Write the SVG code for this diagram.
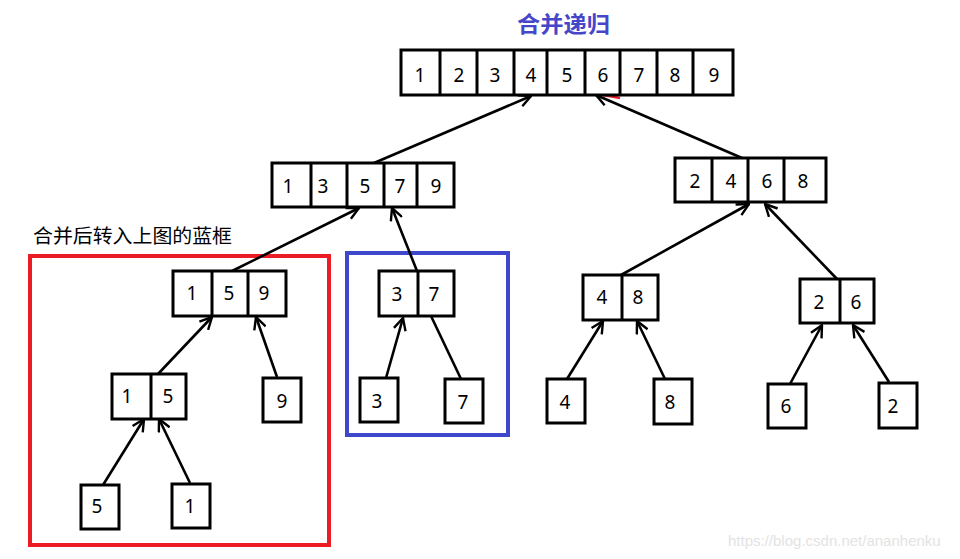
<svg xmlns="http://www.w3.org/2000/svg" width="960" height="559" viewBox="0 0 960 559">
<style>
.box{fill:#fff;stroke:#000;stroke-width:3}
.div{stroke:#000;stroke-width:3}
.n{font-family:"Noto Sans","Liberation Sans",sans-serif;font-size:19px;fill:#000;text-anchor:middle}
.e{stroke:#000;stroke-width:2.6;fill:none}
.a{marker-end:url(#arr)}
</style>
<defs>
<marker id="arr" viewBox="0 0 14 14" refX="13" refY="7" markerWidth="14" markerHeight="14" markerUnits="userSpaceOnUse" orient="auto">
<path d="M1,1 L13,7 L1,13" fill="none" stroke="#000" stroke-width="2.4"/>
</marker>
</defs>
<rect width="960" height="559" fill="#fff"/>
<text x="517" y="32" textLength="93" lengthAdjust="spacingAndGlyphs" font-family="'Noto Sans CJK SC',sans-serif" font-size="22" font-weight="bold" fill="#4646c8">合并递归</text>
<text x="33" y="243" textLength="199" lengthAdjust="spacingAndGlyphs" font-family="'Noto Sans CJK SC',sans-serif" font-size="19.5" fill="#000">合并后转入上图的蓝框</text>
<rect x="30" y="256" width="299" height="289" fill="none" stroke="#ed1c24" stroke-width="4"/>
<rect x="347" y="253" width="161" height="182" fill="none" stroke="#3f48cc" stroke-width="4"/>

<g id="connectors">
<line class="e a" x1="374" y1="163" x2="531" y2="96"/>
<line class="e a" x1="742" y1="158" x2="596" y2="95"/>
<line x1="603" y1="95" x2="620" y2="98" stroke="#ed1c24" stroke-width="2.5"/>
<line class="e a" x1="232" y1="271" x2="359" y2="208"/>
<line class="e a" x1="417" y1="271" x2="392" y2="208"/>
<line class="e a" x1="621" y1="275" x2="749" y2="204"/>
<line class="e a" x1="837" y1="279" x2="765" y2="204"/>
<line class="e a" x1="158" y1="374" x2="212" y2="317"/>
<line class="e a" x1="277" y1="377" x2="256" y2="317"/>
<line class="e a" x1="103" y1="485" x2="144" y2="419"/>
<line class="e a" x1="190" y1="483" x2="159" y2="419"/>
<line class="e a" x1="386" y1="378" x2="403" y2="318"/>
<line class="e" x1="461" y1="379" x2="431" y2="316"/>
<line class="e a" x1="567" y1="379" x2="603" y2="321"/>
<line class="e a" x1="665" y1="379" x2="637" y2="321"/>
<line class="e a" x1="790" y1="384" x2="822" y2="325"/>
<line class="e a" x1="889" y1="382" x2="853" y2="325"/>
</g>

<g id="top">
<rect class="box" x="401" y="50" width="332" height="45"/>
<path class="div" d="M440,50V95M477,50V95M514,50V95M547,50V95M585,50V95M620,50V95M657,50V95M693,50V95"/>
<text class="n" x="420" y="82">1</text><text class="n" x="459" y="82">2</text><text class="n" x="495" y="82">3</text><text class="n" x="531" y="82">4</text><text class="n" x="567" y="82">5</text><text class="n" x="603" y="82">6</text><text class="n" x="639" y="82">7</text><text class="n" x="675" y="82">8</text><text class="n" x="714" y="82">9</text>
</g>

<g id="l2left">
<rect class="box" x="272" y="163" width="182" height="44"/>
<path class="div" d="M311,163V207M347,163V207M384,163V207M417,163V207"/>
<text class="n" x="288" y="193">1</text><text class="n" x="323" y="193">3</text><text class="n" x="365" y="193">5</text><text class="n" x="400" y="193">7</text><text class="n" x="436" y="193">9</text>
</g>

<g id="l2right">
<rect class="box" x="675" y="158" width="151" height="44"/>
<path class="div" d="M712,158V202M748,158V202M784,158V202"/>
<text class="n" x="695" y="188">2</text><text class="n" x="731" y="188">4</text><text class="n" x="767" y="188">6</text><text class="n" x="803" y="188">8</text>
</g>

<g id="n159">
<rect class="box" x="173" y="271" width="113" height="45"/>
<path class="div" d="M212,271V316M248,271V316"/>
<text class="n" x="192" y="300">1</text><text class="n" x="229" y="300">5</text><text class="n" x="264" y="300">9</text>
</g>

<g id="n15">
<rect class="box" x="112" y="374" width="74" height="45"/>
<path class="div" d="M151,374V419"/>
<text class="n" x="127" y="403">1</text><text class="n" x="168" y="403">5</text>
</g>

<g id="n9"><rect class="box" x="263" y="378" width="38" height="44"/><text class="n" x="282" y="408">9</text></g>
<g id="n5"><rect class="box" x="81" y="485" width="38" height="44"/><text class="n" x="97" y="513">5</text></g>
<g id="n1"><rect class="box" x="172" y="484" width="38" height="44"/><text class="n" x="190" y="513">1</text></g>

<g id="n37">
<rect class="box" x="379" y="271" width="75" height="45"/>
<path class="div" d="M418,271V316"/>
<text class="n" x="397" y="301">3</text><text class="n" x="434" y="301">7</text>
</g>
<g id="n3"><rect class="box" x="360" y="378" width="38" height="44"/><text class="n" x="377" y="408">3</text></g>
<g id="n7"><rect class="box" x="445" y="379" width="38" height="44"/><text class="n" x="463" y="409">7</text></g>

<g id="n48">
<rect class="box" x="583" y="275" width="75" height="45"/>
<path class="div" d="M622,275V320"/>
<text class="n" x="602" y="304">4</text><text class="n" x="638" y="304">8</text>
</g>
<g id="n26">
<rect class="box" x="800" y="279" width="74" height="44"/>
<path class="div" d="M840,279V323"/>
<text class="n" x="819" y="309">2</text><text class="n" x="856" y="309">6</text>
</g>
<g id="n4"><rect class="box" x="547" y="379" width="38" height="44"/><text class="n" x="565" y="409">4</text></g>
<g id="n8"><rect class="box" x="654" y="379" width="38" height="45"/><text class="n" x="670" y="409">8</text></g>
<g id="n6"><rect class="box" x="768" y="384" width="38" height="44"/><text class="n" x="786" y="413">6</text></g>
<g id="n2"><rect class="box" x="879" y="383" width="38" height="45"/><text class="n" x="893" y="413">2</text></g>

<text x="728" y="546" font-family="'Liberation Sans',sans-serif" font-size="15" fill="#e3e3e3">https://blog.csdn.net/ananhenku</text>
</svg>
